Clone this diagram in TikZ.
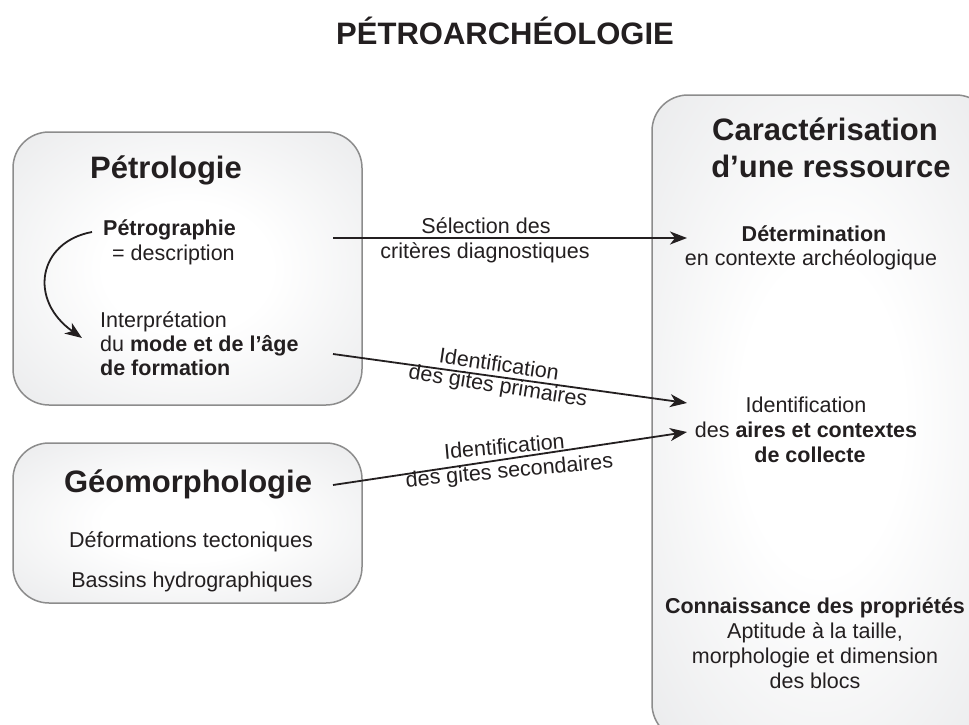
\documentclass[tikz,border=0pt]{standalone}
\usepackage{fontspec}
\setmainfont{Liberation Sans}
\usetikzlibrary{arrows.meta}
\definecolor{ink}{HTML}{231F20}
\definecolor{boxline}{HTML}{8C8C8C}
\definecolor{boxgray}{HTML}{E2E3E5}
\pgfdeclareradialshading{boxshade}{\pgfpoint{0bp}{0bp}}{color(0bp)=(white); color(12bp)=(white); color(45bp)=(boxgray); color(50bp)=(boxgray)}
\tikzset{
  panel/.style={draw=boxline, line width=1.5pt, rounded corners=36pt, shading=boxshade, inner sep=0pt},
  big/.style={font=\fontsize{31}{37}\selectfont\bfseries, text=ink, inner sep=0pt, anchor=base},
  txt/.style={font=\fontsize{21.5}{25}\selectfont, text=ink, inner sep=0pt, anchor=base},
  conn/.style={draw=ink, line width=1.8pt, -{Stealth[length=17pt,width=13pt,inset=5pt]}}
}
\begin{document}
\begin{tikzpicture}[x=1pt,y=-1pt]
\useasboundingbox (0,0) rectangle (969,725);
\clip (0,0) rectangle (969,725);
\fill[white] (0,0) rectangle (969,725);
% panels
\node[panel, minimum width=349pt, minimum height=273pt] (petbox) at (187.5,268.5) {};
\node[panel, minimum width=349pt, minimum height=160pt] (geobox) at (187.5,523) {};
\node[panel, minimum width=340pt, minimum height=645pt] (carbox) at (822,417.5) {};
% title
\node[big] (title) at (505,45) {PÉTROARCHÉOLOGIE};
% Petrologie
\node[big] (petro) at (166,178) {Pétrologie};
\node[txt, anchor=base west, font=\fontsize{21.5}{25}\selectfont\bfseries] (petrog) at (103,235) {Pétrographie};
\node[txt, anchor=base west] (descr) at (112,260) {= description};
\node[txt, anchor=base west] (interp1) at (100,327) {Interprétation};
\node[txt, anchor=base west] (interp2) at (100,351) {du \textbf{mode et de l’âge}};
\node[txt, anchor=base west] (interp3) at (100,375) {\textbf{de formation}};
% Geomorphologie
\node[big] (geo) at (188,492) {Géomorphologie};
\node[txt] (deform) at (191,547) {Déformations tectoniques};
\node[txt] (bassins) at (192,587) {Bassins hydrographiques};
% Caracterisation
\node[big] (car1) at (825,140) {Caractérisation};
\node[big] (car2) at (831,177) {d’une ressource};
\node[txt, font=\fontsize{21.5}{25}\selectfont\bfseries] (det1) at (814,241) {Détermination};
\node[txt] (det2) at (811,265) {en contexte archéologique};
\node[txt] (ide1) at (806,412) {Identification};
\node[txt] (ide2) at (806,437) {des \textbf{aires et contextes}};
\node[txt] (ide3) at (810,462) {\textbf{de collecte}};
\node[txt, font=\fontsize{21.5}{25}\selectfont\bfseries] (con1) at (815,613) {Connaissance des propriétés};
\node[txt] (con2) at (815,638) {Aptitude à la taille,};
\node[txt] (con3) at (815,663) {morphologie et dimension};
\node[txt] (con4) at (815,688) {des blocs};
% connector end points
\coordinate (s1) at (333,238);
\coordinate (e1) at (687,238);
\coordinate (s2) at (333,354);
\coordinate (e2) at (687,403);
\coordinate (s3) at (333,485);
\coordinate (e3) at (687,432);
\coordinate (cs) at (92,232);
\coordinate (ce) at (82,338);
% connectors
\draw[conn] (s1) -- (e1);
\node[txt] (sel1) at (486,233) {Sélection des};
\node[txt] (sel2) at (485,258) {critères diagnostiques};
\draw[conn] (s2) -- (e2);
\node[txt, rotate=-8.3] (lp1) at (498,371.5) {Identification};
\node[txt, rotate=-9] (lp2) at (497,392.5) {des gites primaires};
\draw[conn] (s3) -- (e3);
\node[txt, rotate=5] (ls1) at (505,454) {Identification};
\node[txt, rotate=5.3] (ls2) at (510,477.5) {des gites secondaires};
\draw[conn] (cs) .. controls (38,242) and (28,300) .. (ce);
\end{tikzpicture}
\end{document}
